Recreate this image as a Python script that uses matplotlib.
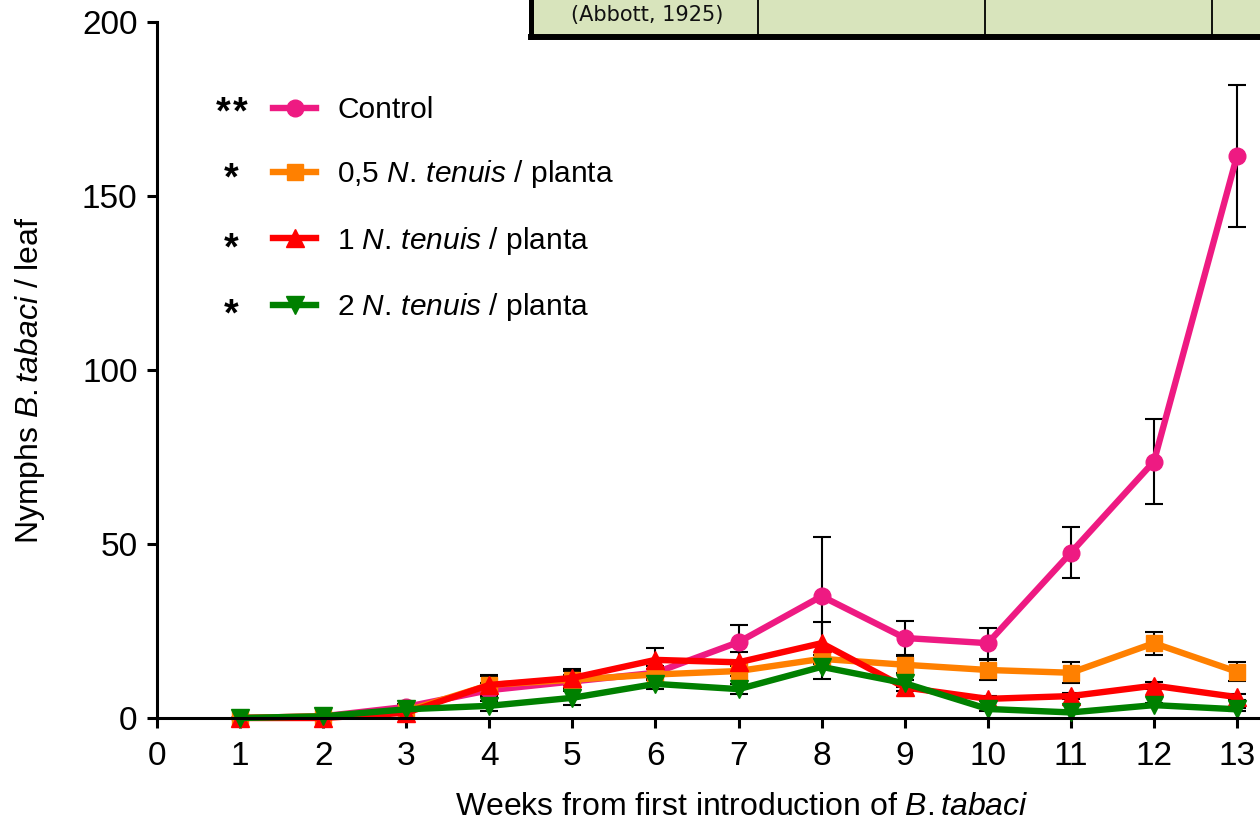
import matplotlib
matplotlib.use("Agg")
from matplotlib import pyplot as plt

plt.rcParams['font.family'] = 'Liberation Sans'
plt.rcParams['mathtext.fontset'] = 'custom'
plt.rcParams['mathtext.rm'] = 'Liberation Sans'
plt.rcParams['mathtext.it'] = 'Liberation Sans:italic'

# weekly counts of nymphs per leaf (mean and standard error)
weeks = [1, 2, 3, 4, 5, 6, 7, 8, 9, 10, 11, 12, 13]

control = [0, 0.5, 3.2, 8, 10.5, 13, 21.8, 35, 23, 21.5, 47.5, 73.7, 161.5]
control_err = [0, 0.3, 0.8, 2, 2, 2, 5, 17, 5, 4.5, 7.3, 12.3, 20.5]

half = [0, 0.5, 2, 9.5, 11, 12.5, 13.5, 17, 15.3, 13.8, 13, 21.5, 13.3]
half_err = [0, 0.3, 0.5, 3, 3, 1.5, 1.5, 1, 2.5, 2.8, 3, 3.3, 2.8]

one = [0, 0, 1.5, 9.5, 11.5, 16.7, 16, 21.5, 8.8, 5.5, 6.3, 9.3, 6]
one_err = [0, 0, 0.5, 2.5, 2, 3.5, 3, 6, 1, 0.7, 0.8, 1, 0.8]

two = [0, 0.5, 2.5, 3.5, 5.8, 9.8, 8.3, 14.7, 10, 2.6, 1.6, 3.7, 2.5]
two_err = [0, 0.2, 0.5, 1.5, 2, 1.5, 1.5, 3.5, 1, 0.5, 0.3, 0.5, 0.4]

labels = ["Control",
          r"0,5 $\mathit{N{.}\,tenuis}$ / planta",
          r"1 $\mathit{N{.}\,tenuis}$ / planta",
          r"2 $\mathit{N{.}\,tenuis}$ / planta"]
signif = ["**", "*", "*", "*"]
colors = ['#EE1A82', '#FF8000', '#FF0000', '#008000']
markers = ['o', 's', '^', 'v']
msizes = [12, 11, 13, 13]

fig = plt.figure(figsize=(12.6, 8.21), dpi=100)
ax = fig.add_axes([157 / 1260, 103 / 821, 1103 / 1260, 696 / 821])

handles = []
series = [(control, control_err), (half, half_err), (one, one_err), (two, two_err)]
for (vals, errs), c, m, ms, lab in zip(series, colors, markers, msizes, labels):
    cont = ax.errorbar(weeks, vals, yerr=errs, color=c, marker=m, markersize=ms,
                       linewidth=4.6, ecolor='black', elinewidth=1.5, capsize=6.5,
                       capthick=1.5, label=lab, clip_on=False)
    handles.append(cont.lines[0])

ax.set_xlim(0, 13.277)
ax.set_ylim(0, 200)
ax.set_xticks(range(0, 14))
ax.set_yticks([0, 50, 100, 150, 200])
for side in ['top', 'right']:
    ax.spines[side].set_visible(False)
for side in ['left', 'bottom']:
    ax.spines[side].set_linewidth(2.2)
ax.tick_params(direction='out', length=7.5, width=2.2, labelsize=24)
ax.tick_params(axis='x', pad=9)
ax.tick_params(axis='y', pad=6.5)

ax.set_xlabel(r"Weeks from first introduction of $\mathit{B{.}tabaci}$", fontsize=23)
ax.xaxis.label.set_va('baseline')
ax.xaxis.set_label_coords(0.530, -0.139)
ax.set_ylabel(r"Nymphs $\mathit{B{.}tabaci}$ / leaf", fontsize=23)
ax.yaxis.set_label_coords(-0.100, 0.486)

leg = ax.legend(handles, labels, loc='upper left',
                bbox_to_anchor=(273 / 1260, 1 - 96 / 821),
                bbox_transform=fig.transFigure, frameon=False, fontsize=21.5,
                borderpad=0, borderaxespad=0, handlelength=1.45,
                handletextpad=0.7, labelspacing=1.15, numpoints=1)

# significance marks to the left of each legend entry
for s, yp in zip(signif, [107.5, 173.5, 243.5, 309]):
    xs = [223, 240] if len(s) == 2 else [231]
    for xp in xs:
        fig.text(xp / 1260, 1 - (yp + 6) / 821, "*", ha='center', va='center',
                 fontsize=27, fontweight='bold')

# bottom row of the summary table at the top right
tab = fig.add_axes([531 / 1260, 1 - 37 / 821, 729 / 1260, 37 / 821])
tab.set_facecolor('#D8E4BC')
tab.set_xlim(0, 3.21)
tab.set_ylim(0, 1)
tab.set_xticks([])
tab.set_yticks([])
tab.spines['top'].set_visible(False)
tab.spines['right'].set_visible(False)
tab.spines['left'].set_linewidth(3.6)
tab.spines['bottom'].set_linewidth(4.3)
for xc in [1, 2, 3]:
    tab.axvline(xc, color='black', linewidth=1.3)
tab.text(0.51, 0.6, "(Abbott, 1925)", ha='center', va='center',
         fontsize=15, family='DejaVu Sans', color='#111111')

fig.savefig("out.png", dpi=100)
